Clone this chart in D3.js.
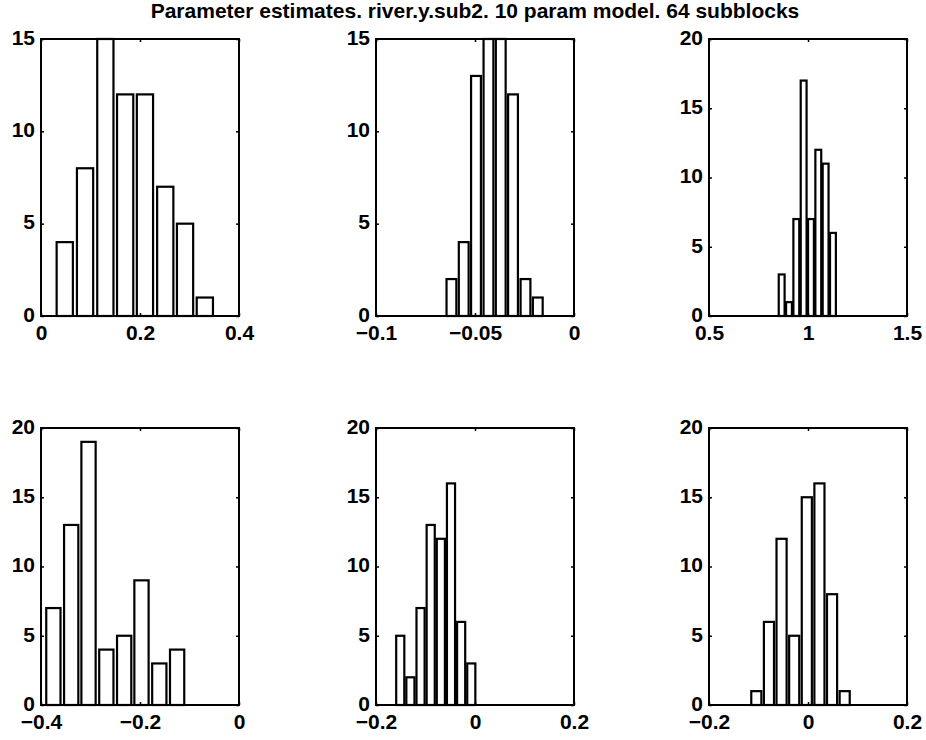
<!DOCTYPE html>
<html>
<head>
<meta charset="utf-8">
<title>Parameter estimates</title>
<script src="https://d3js.org/d3.v7.min.js"></script>
<style>
  body { margin: 0; background: #fff; }
  svg text { font-family: "Liberation Sans", Arial, Helvetica, sans-serif; font-weight: bold; fill: #000; }
</style>
</head>
<body>
<svg id="chart" width="926" height="740"></svg>
<script>
// bin centres and counts (64 subblocks each)
var centers1 = [0.048, 0.089, 0.130, 0.170, 0.210, 0.251, 0.291, 0.331];
var counts1  = [4, 8, 15, 12, 12, 7, 5, 1];

var centers2 = [-0.0619, -0.0557, -0.0495, -0.0432, -0.0370, -0.0308, -0.0245, -0.0183];
var counts2  = [2, 4, 13, 15, 15, 12, 2, 1];

var centers3 = [0.867, 0.904, 0.941, 0.978, 1.015, 1.052, 1.089, 1.126];
var counts3  = [3, 1, 7, 17, 7, 12, 11, 6];

var centers4 = [-0.375, -0.339, -0.304, -0.268, -0.232, -0.197, -0.161, -0.125];
var counts4  = [7, 13, 19, 4, 5, 9, 3, 4];

var centers5 = [-0.151, -0.1305, -0.110, -0.0895, -0.069, -0.0485, -0.028, -0.0075];
var counts5  = [5, 2, 7, 13, 12, 16, 6, 3];

var centers6 = [-0.1044, -0.0789, -0.0534, -0.0279, -0.0024, 0.0231, 0.0486, 0.0741];
var counts6  = [1, 6, 12, 5, 15, 16, 8, 1];

// axis ranges and tick labels
var xDomains = [[0, 0.4], [-0.1, 0], [0.5, 1.5], [-0.4, 0], [-0.2, 0.2], [-0.2, 0.2]];
var xTicks   = [[0, 0.2, 0.4], [-0.1, -0.05, 0], [0.5, 1, 1.5], [-0.4, -0.2, 0], [-0.2, 0, 0.2], [-0.2, 0, 0.2]];
var xLabels  = [["0", "0.2", "0.4"], ["\u22120.1", "\u22120.05", "0"], ["0.5", "1", "1.5"],
                ["\u22120.4", "\u22120.2", "0"], ["\u22120.2", "0", "0.2"], ["\u22120.2", "0", "0.2"]];
var yMax     = [15, 15, 20, 20, 20, 20];
var yTicks15 = [0, 5, 10, 15];
var yTicks20 = [0, 5, 10, 15, 20];

var title = "Parameter estimates. river.y.sub2. 10 param model. 64 subblocks";

var panels = [
  {c: centers1, n: counts1}, {c: centers2, n: counts2}, {c: centers3, n: counts3},
  {c: centers4, n: counts4}, {c: centers5, n: counts5}, {c: centers6, n: counts6}
];

// layout
var colLeft = [41, 376, 709];
var rowTop = [39, 428];
var pw = 198, ph = 277;

var svg = d3.select("#chart");

svg.append("text")
  .attr("x", 475)
  .attr("y", 18)
  .attr("text-anchor", "middle")
  .style("font-size", "21px")
  .text(title);

panels.forEach(function(p, i) {
  var g = svg.append("g")
    .attr("transform", "translate(" + colLeft[i % 3] + "," + rowTop[Math.floor(i / 3)] + ")");

  var x = d3.scaleLinear().domain(xDomains[i]).range([0, pw]);
  var y = d3.scaleLinear().domain([0, yMax[i]]).range([ph, 0]);
  var yt = yMax[i] == 15 ? yTicks15 : yTicks20;

  // bars: 0.8 of the bin spacing, like matlab hist
  var bw = 0.8 * Math.abs(x(p.c[1]) - x(p.c[0]));
  g.selectAll("rect.bar")
    .data(p.c)
    .enter().append("rect")
      .attr("class", "bar")
      .attr("x", function(d) { return x(d) - bw / 2; })
      .attr("width", bw)
      .attr("y", function(d, j) { return y(p.n[j]); })
      .attr("height", function(d, j) { return ph - y(p.n[j]); })
      .attr("fill", "#fff")
      .attr("stroke", "#000")
      .attr("stroke-width", 2.2);

  // ticks, inward on all four sides
  var labs = xLabels[i];
  var bottom = g.append("g")
    .attr("transform", "translate(0," + ph + ")")
    .call(d3.axisBottom(x).tickValues(xTicks[i]).tickSize(-3).tickPadding(9)
      .tickFormat(function(d, j) { return labs[j]; }));
  var top = g.append("g")
    .call(d3.axisTop(x).tickValues(xTicks[i]).tickSize(-3).tickFormat(""));
  var left = g.append("g")
    .call(d3.axisLeft(y).tickValues(yt).tickSize(-3).tickPadding(6));
  var right = g.append("g")
    .attr("transform", "translate(" + pw + ",0)")
    .call(d3.axisRight(y).tickValues(yt).tickSize(-3).tickFormat(""));

  [bottom, top, left, right].forEach(function(a) {
    a.select(".domain").remove();
    a.selectAll("line").attr("stroke", "#000").attr("stroke-width", 1.5);
    a.selectAll("text").style("font-size", "21px").attr("fill", "#000")
      .style("font-family", "'Liberation Sans', Arial, sans-serif").style("font-weight", "bold");
  });
  // y labels sit a touch above their ticks in the print
  left.selectAll("text").attr("dy", "0.25em");

  // box
  g.append("rect")
    .attr("width", pw)
    .attr("height", ph)
    .attr("fill", "none")
    .attr("stroke", "#000")
    .attr("stroke-width", 2);
});
</script>
</html>
